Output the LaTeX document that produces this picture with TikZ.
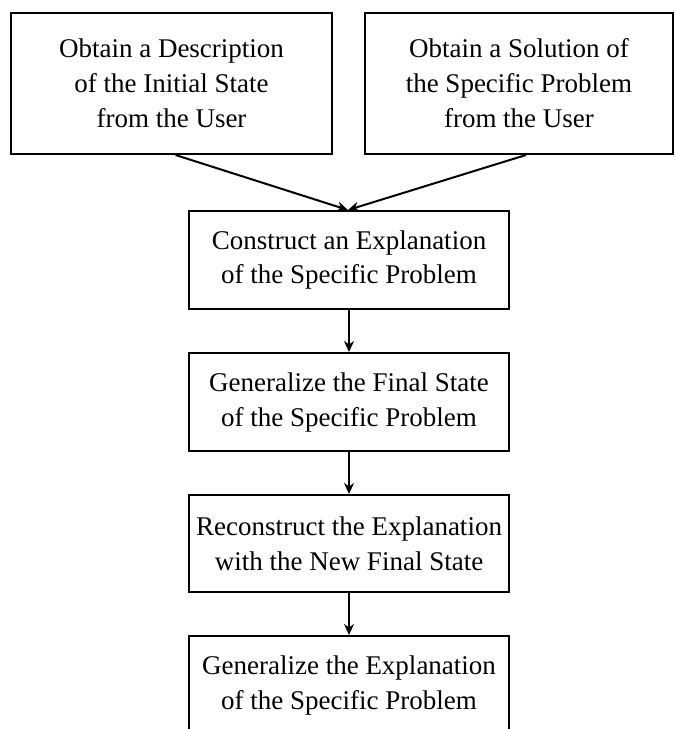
\documentclass[tikz,border=0pt]{standalone}
\usepackage{fontspec}
\setmainfont{Liberation Serif}
\usetikzlibrary{arrows.meta}
\begin{document}
\begin{tikzpicture}[x=1pt,y=-1pt,
  box/.style={draw=black, line width=2pt, rectangle, inner sep=0pt, align=center,
    font=\fontsize{27}{35}\selectfont},
  conn/.style={line width=2pt, -{Stealth[length=11pt,width=10pt,inset=3.5pt]}}]
\clip (0,0) rectangle (675,729);
\useasboundingbox (0,0) rectangle (675,729);
\node[box, minimum width=321pt, minimum height=141pt] (A) at (171.5,83.5)
  {Obtain a Description\\of the Initial State\\from the User};
\node[box, minimum width=308pt, minimum height=141pt] (B) at (519,83.5)
  {Obtain a Solution of\\the Specific Problem\\from the User};
\node[box, minimum width=320pt, minimum height=98pt] (C) at (349,260)
  {Construct an Explanation\\of the Specific Problem};
\node[box, minimum width=320pt, minimum height=98pt] (D) at (349,402)
  {Generalize the Final State\\of the Specific Problem};
\node[box, minimum width=320pt, minimum height=97pt] (E) at (349,543.5)
  {Reconstruct the Explanation\\with the New Final State};
\node[box, minimum width=320pt, minimum height=98pt] (F) at (349,685)
  {Generalize the Explanation\\of the Specific Problem};
\coordinate (As) at ([xshift=4pt]A.south);
\coordinate (Bs) at ([xshift=7pt]B.south);
\coordinate (Cn) at ([xshift=-1pt]C.north);
\draw[conn] (As) -- (Cn);
\draw[conn] (Bs) -- (Cn);
\draw[conn] (C) -- (D);
\draw[conn] (D) -- (E);
\draw[conn] (E) -- (F);
\end{tikzpicture}
\end{document}
